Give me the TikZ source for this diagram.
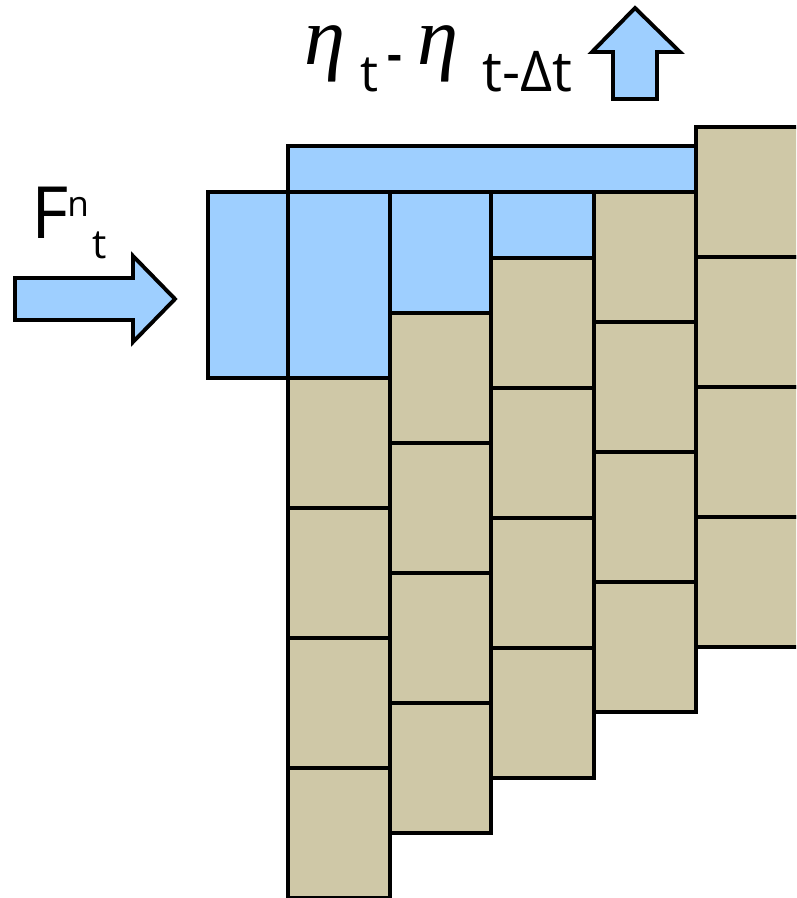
\documentclass[tikz,border=0pt]{standalone}
\usepackage{fontspec}
\setsansfont{Open Sans}
\newfontfamily\etafont{Liberation Serif}
\definecolor{waterblue}{RGB}{158,207,255}
\definecolor{soiltan}{RGB}{207,200,167}
\tikzset{
  water/.style={fill=waterblue,draw=black,line width=2.2pt,line join=miter},
  soil/.style={fill=soiltan,draw=black,line width=2.2pt},
  lbl/.style={inner sep=0pt,anchor=base west}
}
\begin{document}
\begin{tikzpicture}[x=0.02cm,y=-0.02cm]
\clip (0,0) rectangle (796,898);
% soil columns, four blocks each
\foreach \xa/\xb/\yt in {288/390/378,390/491/313,491/594/258,594/696/192,696/820/127}
  \foreach \k in {0,...,3} \draw[soil] (\xa,\yt+130*\k) rectangle (\xb,\yt+130*\k+130);
% water
\draw[water] (208,192) rectangle (288,378);
\draw[water] (288,192) rectangle (390,378);
\draw[water] (390,192) rectangle (491,313);
\draw[water] (491,192) rectangle (594,258);
\draw[water] (288,146) rectangle (696,192);
% block arrows
\draw[water] (15,278)--(133,278)--(133,256)--(175,299)--(133,342)--(133,320)--(15,320)--cycle;
\draw[water] (613,99)--(613,52)--(592,52)--(635,8)--(680,52)--(657,52)--(657,99)--cycle;
% labels
\node[lbl,font=\sffamily\fontsize{41}{41}\selectfont] (force) at (31,239) {F};
\node[lbl,font=\sffamily\fontsize{20}{20}\selectfont] (forcen) at (67,217) {n};
\node[lbl,font=\sffamily\fontsize{23}{23}\selectfont] (forcet) at (92,258) {t};
\node[lbl,font=\etafont\itshape\fontsize{47}{47}\selectfont] (eta1) at (304,65) {η};
\node[lbl,font=\sffamily\fontsize{29}{29}\selectfont] (sub1) at (360,92) {t};
\node[lbl,font=\sffamily\bfseries\fontsize{26}{26}\selectfont] (minus) at (387,71) {-};
\node[lbl,font=\etafont\itshape\fontsize{47}{47}\selectfont] (eta2) at (417,65) {η};
\node[lbl,font=\sffamily\fontsize{32}{32}\selectfont] (sub2) at (482,92) {t-Δt};
\end{tikzpicture}
\end{document}
